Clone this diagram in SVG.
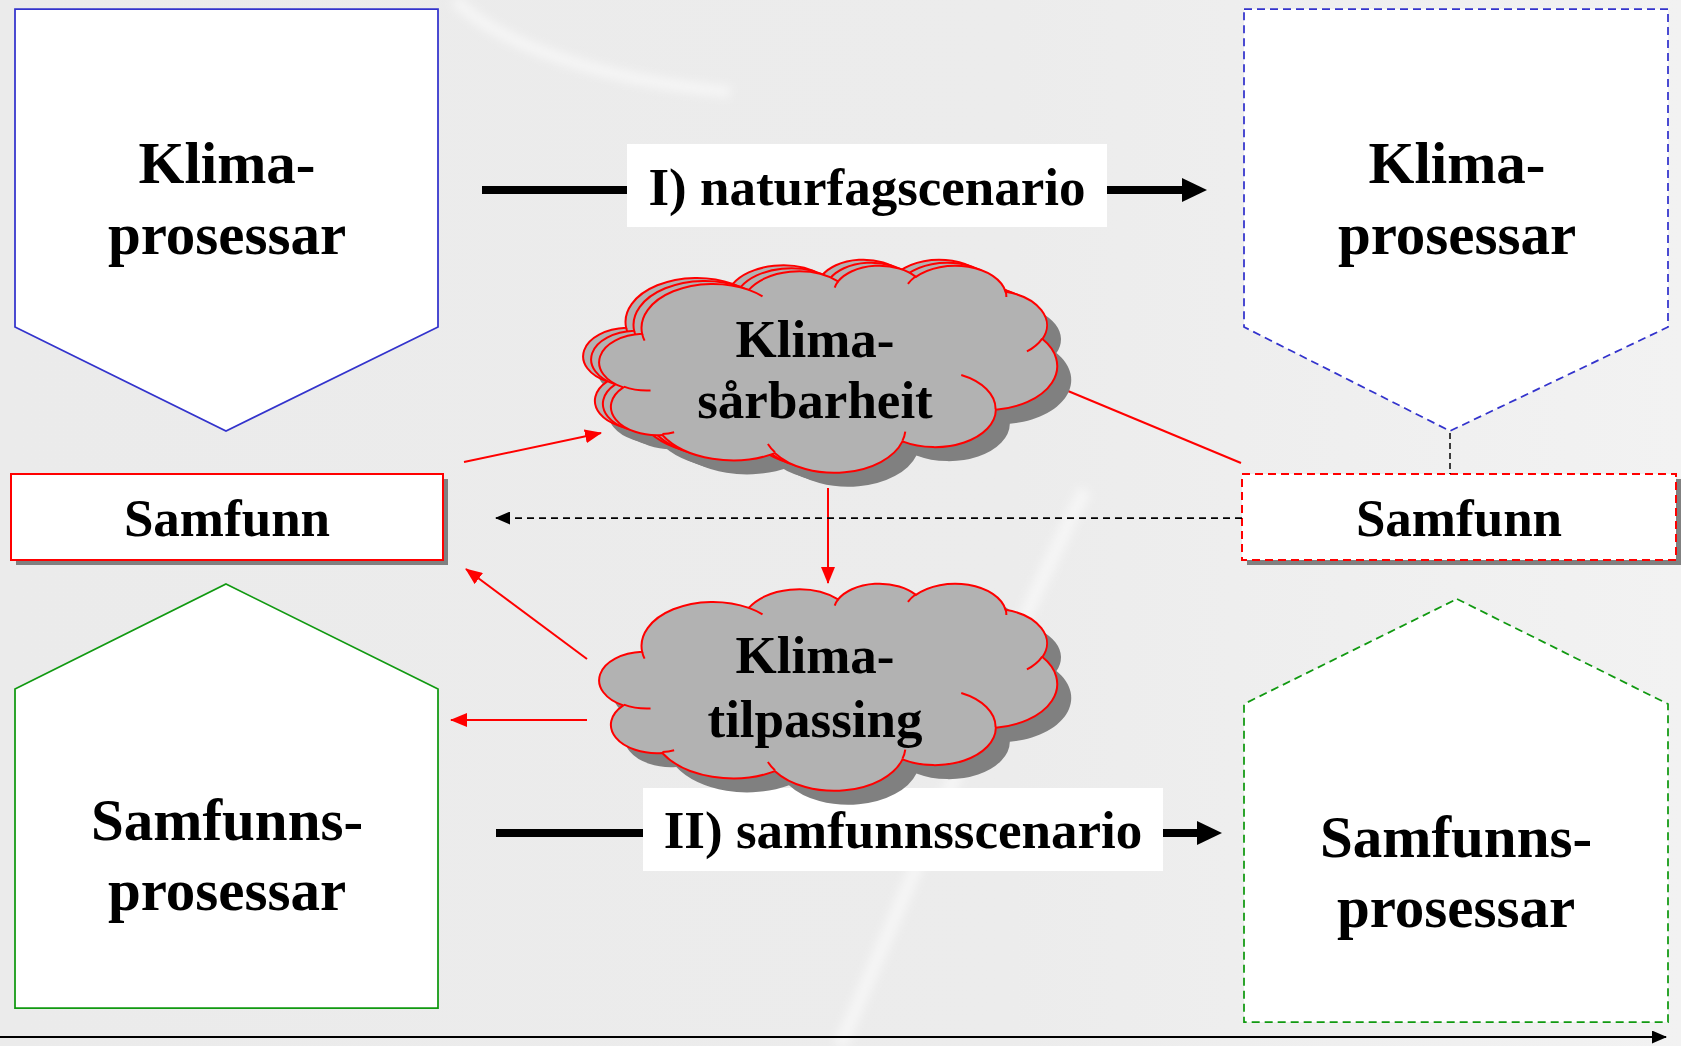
<svg xmlns="http://www.w3.org/2000/svg" xmlns:xlink="http://www.w3.org/1999/xlink" width="1681" height="1046" viewBox="0 0 1681 1046">
<style>
.txt59{font-family:"Liberation Serif","Times New Roman",serif;font-weight:bold;font-size:59px;text-anchor:middle;fill:#000}
.txt53{font-family:"Liberation Serif","Times New Roman",serif;font-weight:bold;font-size:53px;text-anchor:middle;fill:#000}
.blue{fill:#fff;stroke:#3333cc;stroke-width:1.75}
.blue-d{fill:#fff;stroke:#3333cc;stroke-width:1.75;stroke-dasharray:8 5}
.green{fill:#fff;stroke:#119911;stroke-width:1.75}
.green-d{fill:#fff;stroke:#119911;stroke-width:1.75;stroke-dasharray:8 5}
.box{fill:#fff;stroke:#ff0000;stroke-width:2}
.box-d{fill:#fff;stroke:#ff0000;stroke-width:2;stroke-dasharray:8 5}
.shadow{fill:#808080;stroke:none}
.cloud{fill:#b2b2b2;stroke:#ff0000;stroke-width:2}
.arcs{fill:none;stroke:#ff0000;stroke-width:2}
.red{stroke:#ff0000;stroke-width:2;fill:none}
.thick{stroke:#000;stroke-width:8;fill:none}
.dash{stroke:#000;stroke-width:1.75;stroke-dasharray:7 5;fill:none}
.label{fill:#fff;stroke:none}
</style>
<defs>
<path id="cloudOutline" vector-effect="non-scaling-stroke" d="M3900,14370 A6753,9190 0 0 1 14005,5202 A5333,7267 0 0 1 22457,3434 A4365,5945 0 0 1 29835,2483 A4857,6595 0 0 1 38320,5579 A5333,7273 0 0 1 41820,15463 A6775,9220 0 0 1 37406,30207 A5785,7867 0 0 1 28558,36817 A6752,9215 0 0 1 16483,39268 A7720,10543 0 0 1 5807,35471 A4360,5918 0 0 1 2117,25546 A4345,5945 0 0 1 3900,14370 Z"/>
<path id="cloudArcs" vector-effect="non-scaling-stroke" d="M4693,26177 A4345,5945 0 0 1 2159,25379 M6928,34899 A4360,5918 0 0 1 5819,35281 M16478,39090 A6752,9215 0 0 1 15810,37350 M28827,34751 A6752,9215 0 0 1 28560,36661 M34129,22954 A5785,7867 0 0 1 37380,30090 M41798,15354 A5333,7273 0 0 1 40350,18030 M38324,5426 A4857,6595 0 0 1 38400,6689 M29078,3952 A4857,6595 0 0 1 29820,2340 M22141,4720 A4365,5945 0 0 1 22500,3330 M14000,5192 A6753,9190 0 0 1 15301,6542 M4127,15789 A6753,9190 0 0 1 3900,14370"/>
<marker id="redHead" markerUnits="userSpaceOnUse" markerWidth="17" markerHeight="14" refX="16" refY="7" orient="auto"><path d="M0,0 L17,7 L0,14 Z" fill="#ff0000"/></marker>
<marker id="blackHead" markerUnits="userSpaceOnUse" markerWidth="15" markerHeight="13" refX="14" refY="6.5" orient="auto"><path d="M0,0 L15,6.5 L0,13 Z" fill="#000"/></marker>
<marker id="bigHead" markerUnits="userSpaceOnUse" markerWidth="25" markerHeight="24" refX="15" refY="12" orient="auto"><path d="M0,0 L25,12 L0,24 Z" fill="#000"/></marker>
<linearGradient id="bgGrad" x1="0" y1="0" x2="1" y2="0">
<stop offset="0" stop-color="#ebebeb"/>
<stop offset="0.6" stop-color="#ececec"/>
<stop offset="1" stop-color="#f2f2f2"/>
</linearGradient>
<filter id="soft" x="-20%" y="-20%" width="140%" height="140%"><feGaussianBlur stdDeviation="5"/></filter>
</defs>

<g id="background">
<rect x="0" y="0" width="1681" height="1046" fill="url(#bgGrad)"/>
<g filter="url(#soft)" fill="none" stroke="#fafafa" stroke-opacity="0.7">
<path d="M455,0 C500,45 600,80 730,92" stroke-width="12"/>
<path d="M1085,490 C1010,640 920,860 840,1046" stroke-width="14"/>
</g>
</g>

<g id="klima-prosessar-left">
<polygon class="blue" points="15,9 438,9 438,327 226,431 15,327"/>
<text class="txt59" x="227" y="183">Klima-</text>
<text class="txt59" x="227" y="254">prosessar</text>
</g>

<g id="klima-prosessar-right">
<polygon class="blue-d" points="1244,9 1668,9 1668,327 1450,431 1244,327"/>
<text class="txt59" x="1457" y="183">Klima-</text>
<text class="txt59" x="1457" y="254">prosessar</text>
</g>

<g id="samfunn-left">
<rect class="shadow" x="16" y="479" width="432" height="86"/>
<rect class="box" x="11" y="474" width="432" height="86"/>
<text class="txt53" x="227" y="536">Samfunn</text>
</g>

<g id="samfunn-right">
<rect class="shadow" x="1247" y="479" width="434" height="86"/>
<rect class="box-d" x="1242" y="474" width="434" height="86"/>
<text class="txt53" x="1459" y="536">Samfunn</text>
</g>

<g id="samfunns-prosessar-left">
<polygon class="green" points="226,584 438,689 438,1008 15,1008 15,689"/>
<text class="txt59" x="227" y="840">Samfunns-</text>
<text class="txt59" x="227" y="910">prosessar</text>
</g>

<g id="samfunns-prosessar-right">
<polygon class="green-d" points="1457,599 1668,704 1668,1022 1244,1022 1244,704"/>
<text class="txt59" x="1456" y="857">Samfunns-</text>
<text class="txt59" x="1456" y="927">prosessar</text>
</g>

<g id="connectors">
<line class="thick" x1="482" y1="190" x2="1197" y2="190" marker-end="url(#bigHead)"/>
<line class="thick" x1="496" y1="833" x2="1212" y2="833" marker-end="url(#bigHead)"/>
<line class="red" x1="1056" y1="386" x2="1241" y2="463"/>
<line class="red" x1="464" y1="462" x2="601" y2="433" marker-end="url(#redHead)"/>
<line class="red" x1="828" y1="488" x2="828" y2="583" marker-end="url(#redHead)"/>
<line class="red" x1="587" y1="659" x2="466" y2="569" marker-end="url(#redHead)"/>
<line class="red" x1="587" y1="720" x2="451" y2="720" marker-end="url(#redHead)"/>
<line class="dash" x1="1242" y1="518" x2="496" y2="518" marker-end="url(#blackHead)"/>
<line stroke="#000" stroke-width="1.5" stroke-dasharray="6 4" x1="1450" y1="433" x2="1450" y2="474"/>
<line stroke="#000" stroke-width="2" x1="0" y1="1037" x2="1666" y2="1037" marker-end="url(#blackHead)"/>
</g>

<g id="label-naturfagscenario">
<rect class="label" x="627" y="144" width="480" height="83"/>
<text class="txt53" x="867" y="205">I) naturfagscenario</text>
</g>

<g id="label-samfunnsscenario">
<rect class="label" x="643" y="788" width="520" height="83"/>
<text class="txt53" x="903" y="848">II) samfunnsscenario</text>
</g>

<g id="cloud-klimasarbarheit">
<use xlink:href="#cloudOutline" class="shadow" transform="translate(599,273) scale(0.0105556,0.0047917)"/>
<use xlink:href="#cloudOutline" class="shadow" transform="translate(607,276) scale(0.0105556,0.0047917)"/>
<use xlink:href="#cloudOutline" class="shadow" transform="translate(615,279) scale(0.0105556,0.0047917)"/>
<g transform="translate(585,259) scale(0.0105556,0.0047917)"><use xlink:href="#cloudOutline" class="cloud"/><use xlink:href="#cloudArcs" class="arcs"/></g>
<g transform="translate(593,262) scale(0.0105556,0.0047917)"><use xlink:href="#cloudOutline" class="cloud"/><use xlink:href="#cloudArcs" class="arcs"/></g>
<g transform="translate(601,265) scale(0.0105556,0.0047917)"><use xlink:href="#cloudOutline" class="cloud"/><use xlink:href="#cloudArcs" class="arcs"/></g>
<text class="txt53" x="815" y="357">Klima-</text>
<text class="txt53" x="815" y="418">sårbarheit</text>
</g>

<g id="cloud-klimatilpassing">
<use xlink:href="#cloudOutline" class="shadow" transform="translate(615,597) scale(0.0105556,0.0047917)"/>
<g transform="translate(601,583) scale(0.0105556,0.0047917)"><use xlink:href="#cloudOutline" class="cloud"/><use xlink:href="#cloudArcs" class="arcs"/></g>
<text class="txt53" x="815" y="673">Klima-</text>
<text class="txt53" x="815" y="737">tilpassing</text>
</g>
</svg>
